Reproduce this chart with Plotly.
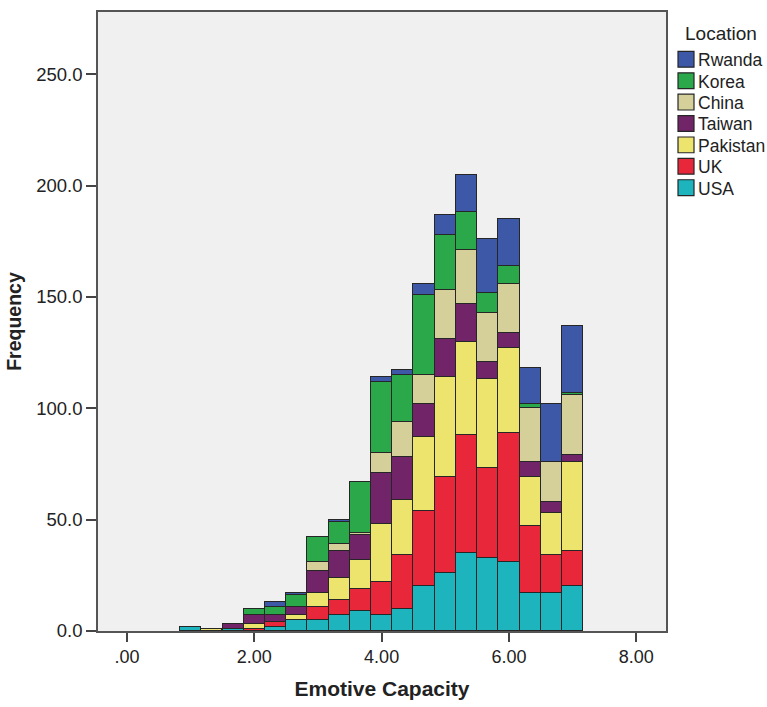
import plotly.graph_objects as go

# ---- data ----
bin_centers = [1.000, 1.333, 1.667, 2.000, 2.333, 2.667, 3.000, 3.333, 3.667,
               4.000, 4.333, 4.667, 5.000, 5.333, 5.667, 6.000, 6.333, 6.667, 7.000]
bin_width = 1 / 3

usa      = [2, 0, 1, 0, 2, 5, 5, 7, 9, 7, 10, 20, 26, 35, 33, 31, 17, 17, 20]
uk       = [0, 0, 0, 1, 2, 0, 6, 7, 10, 15, 24, 34, 43, 53, 40, 58, 30, 17, 16]
pakistan = [0, 1, 0, 2, 0, 2, 6, 10, 13, 26, 25, 33, 45, 42, 40, 38, 22, 19, 40]
taiwan   = [0, 0, 2, 4, 3, 4, 10, 12, 11, 23, 19, 15, 17, 17, 8, 7, 7, 5, 3]
china    = [0, 0, 0, 0, 0, 0, 4, 3, 1, 9, 16, 13, 22, 24, 22, 22, 24, 18, 27]
korea    = [0, 0, 0, 3, 4, 5, 11, 10, 23, 32, 21, 36, 25, 17, 9, 8, 2, 0, 1]
rwanda   = [0, 0, 0, 0, 2, 1, 0, 1, 0, 2, 2, 5, 9, 17, 24, 21, 16, 26, 30]

series_names = ["USA", "UK", "Pakistan", "Taiwan", "China", "Korea", "Rwanda"]
series_values = [usa, uk, pakistan, taiwan, china, korea, rwanda]
series_colors = ["#1DB4BE", "#E8283A", "#EDE46E", "#722468", "#D5D09A", "#2BA84A", "#3D58A7"]

x_tick_vals = [0, 2, 4, 6, 8]
x_tick_text = [".00", "2.00", "4.00", "6.00", "8.00"]
y_tick_vals = [0, 50, 100, 150, 200, 250]

x_title = "Emotive Capacity"
y_title = "Frequency"
legend_title = "Location"

# ---- figure ----
W, H = 767, 707
ML, MR, MT, MB = 98, 101, 10, 69
plot_w = W - ML - MR
plot_h = H - MT - MB

fig = go.Figure()
for name, vals, col in zip(series_names, series_values, series_colors):
    fig.add_trace(go.Bar(
        x=bin_centers, y=vals, name=name, width=bin_width,
        marker=dict(color=col, line=dict(color="#262626", width=1.2)),
        showlegend=False,
    ))

font_family = "Liberation Sans, Arial, sans-serif"

fig.update_layout(
    width=W, height=H,
    margin=dict(l=ML, r=MR, t=MT, b=MB, pad=0),
    barmode="stack", bargap=0,
    paper_bgcolor="white", plot_bgcolor="#F0F0F0",
    font=dict(family=font_family, color="#222222"),
    xaxis=dict(
        range=[-0.456, 8.468], tickmode="array",
        tickvals=x_tick_vals, ticktext=x_tick_text,
        ticks="outside", ticklen=9, tickwidth=1.5, tickcolor="#444",
        showline=True, linecolor="#555", linewidth=1.5, mirror=True,
        showgrid=False, zeroline=False,
        tickfont=dict(size=18, color="#222"),
        title=dict(text="<b>" + x_title + "</b>", font=dict(size=21, color="#222"), standoff=15),
    ),
    yaxis=dict(
        range=[0, 278], tickmode="array", tickvals=y_tick_vals,
        tickformat=".1f",
        ticks="outside", ticklen=10, tickwidth=1.5, tickcolor="#444",
        showline=True, linecolor="#555", linewidth=1.5, mirror=True,
        showgrid=False, zeroline=False,
        tickfont=dict(size=18.5, color="#222"),
        title=dict(text="<b>" + y_title + "</b>", font=dict(size=19.5, color="#222"), standoff=9),
    ),
)

# ---- manual legend (outside the plot, right side) ----
def px_to_paper_x(px):
    return (px - ML) / plot_w

def px_to_paper_y(py):
    return (H - MB - py) / plot_h

fig.add_annotation(
    text=legend_title, xref="paper", yref="paper",
    x=px_to_paper_x(683), y=px_to_paper_y(32),
    xanchor="left", yanchor="middle", showarrow=False,
    font=dict(size=19, color="#222", family=font_family),
)
legend_order = list(zip(series_names, series_colors))[::-1]
for i, (name, col) in enumerate(legend_order):
    cy = 58 + i * 21.7
    fig.add_shape(
        type="rect", xref="paper", yref="paper",
        x0=px_to_paper_x(678), x1=px_to_paper_x(694),
        y0=px_to_paper_y(cy + 8), y1=px_to_paper_y(cy - 8),
        fillcolor=col, line=dict(color="#262626", width=1.2),
    )
    fig.add_annotation(
        text=name, xref="paper", yref="paper",
        x=px_to_paper_x(696), y=px_to_paper_y(cy + 1),
        xanchor="left", yanchor="middle", showarrow=False,
        font=dict(size=17.5, color="#222", family=font_family),
    )

fig.write_html("out.html")
